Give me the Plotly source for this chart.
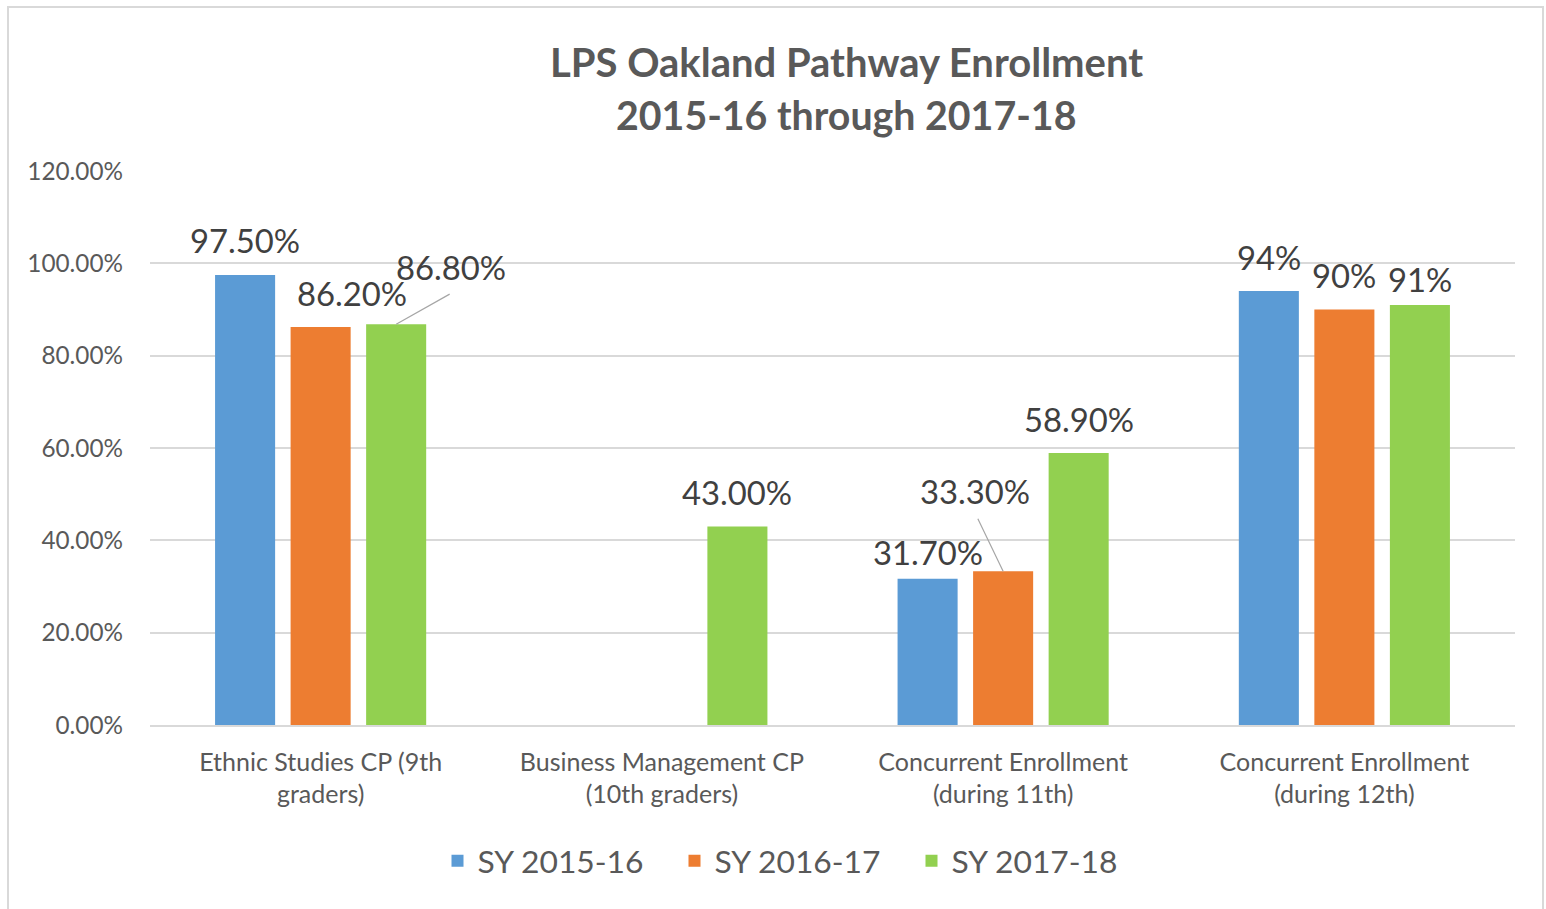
import plotly.graph_objects as go

# ---- data ----
CATEGORIES = [
    "Ethnic Studies CP (9th<br>graders)",
    "Business Management CP<br>(10th graders)",
    "Concurrent Enrollment<br>(during 11th)",
    "Concurrent Enrollment<br>(during 12th)",
]
SERIES_NAMES = ["SY 2015-16", "SY 2016-17", "SY 2017-18"]
SY_2015_16 = [97.5, None, 31.7, 94.0]
SY_2016_17 = [86.2, None, 33.3, 90.0]
SY_2017_18 = [86.8, 43.0, 58.9, 91.0]
LABELS_2015_16 = ["97.50%", None, "31.70%", "94%"]
LABELS_2016_17 = ["86.20%", None, "33.30%", "90%"]
LABELS_2017_18 = ["86.80%", "43.00%", "58.90%", "91%"]
Y_TICKS = [0, 20, 40, 60, 80, 100, 120]
Y_TICK_TEXT = ["0.00%", "20.00%", "40.00%", "60.00%", "80.00%", "100.00%", "120.00%"]

COLORS = ["#5B9BD5", "#ED7D31", "#92D050"]
FONT = "Lato, Open Sans, sans-serif"
GREY = "#595959"

# ---- geometry (pixels) ----
W, H = 1546, 909
L, R, T, B = 150, 31, 171, 184
PLOT_W = W - L - R
PLOT_H = H - T - B
SLOT = PLOT_W / len(CATEGORIES) * (1 - 0.336) / 3  # one bar slot in px

# label tweaks: (series, category) -> (dx, dy above bar top)
LABEL_NUDGE = {
    (1, 0): (31, 34),
    (2, 0): (55, 57),
    (0, 2): (0, 26),
    (1, 2): (-28, 80),
    (2, 3): (0, 25),
}
LEADERS = {
    (2, 0): (55, -31),
    (1, 2): (-26, -54),
}

fig = go.Figure()
all_vals = [SY_2015_16, SY_2016_17, SY_2017_18]
all_labels = [LABELS_2015_16, LABELS_2016_17, LABELS_2017_18]

for name, vals, color in zip(SERIES_NAMES, all_vals, COLORS):
    fig.add_trace(
        go.Bar(
            x=CATEGORIES,
            y=vals,
            name=name,
            marker=dict(color=color, line=dict(width=0)),
            hoverinfo="skip",
        )
    )

annotations = []
for si, (vals, labs) in enumerate(zip(all_vals, all_labels)):
    offset = (si - 1) * SLOT
    for ci, (v, lab) in enumerate(zip(vals, labs)):
        if v is None:
            continue
        dx, dy = LABEL_NUDGE.get((si, ci), (0, 34))
        annotations.append(
            dict(
                x=CATEGORIES[ci], y=v, xref="x", yref="y",
                text=lab, showarrow=False,
                xshift=offset + dx, yshift=dy,
                xanchor="center", yanchor="middle",
                font=dict(family=FONT, size=32.8, color="#404040"),
            )
        )
        if (si, ci) in LEADERS:
            ax, ay = LEADERS[(si, ci)]
            annotations.append(
                dict(
                    x=CATEGORIES[ci], y=v, xref="x", yref="y",
                    text="", showarrow=True, arrowhead=0,
                    arrowwidth=1.2, arrowcolor="#a6a6a6",
                    ax=ax, ay=ay, xshift=offset,
                )
            )

# title lines
for text, ypx, size in [("LPS Oakland Pathway Enrollment", 62, 40),
                        ("2015-16 through 2017-18", 114, 39.3)]:
    annotations.append(
        dict(
            x=(846 - L) / PLOT_W, y=(H - B - ypx) / PLOT_H,
            xref="paper", yref="paper", showarrow=False,
            text=f"<b>{text}</b>",
            xanchor="center", yanchor="middle",
            font=dict(family=FONT, size=size, color=GREY),
        )
    )

fig.update_layout(
    width=W,
    height=H,
    margin=dict(l=L, r=R, t=T, b=B, autoexpand=False),
    paper_bgcolor="white",
    plot_bgcolor="white",
    barmode="group",
    bargap=0.336,
    bargroupgap=0.205,
    showlegend=True,
    legend=dict(
        orientation="h",
        x=(793 - L) / PLOT_W,
        xanchor="center",
        y=(H - B - 861) / PLOT_H,
        yanchor="middle",
        entrywidth=192,
        font=dict(family=FONT, size=31.8, color=GREY),
        itemclick=False,
    ),
    annotations=annotations,
    shapes=[
        dict(
            type="rect", xref="paper", yref="paper",
            x0=(8 - L) / PLOT_W, x1=(1543 - L) / PLOT_W,
            y0=(H - B - 920) / PLOT_H, y1=(H - B - 7) / PLOT_H,
            line=dict(color="#d9d9d9", width=2),
            fillcolor="rgba(0,0,0,0)",
        )
    ],
)

fig.update_xaxes(
    showgrid=False,
    showline=True,
    linecolor="#d9d9d9",
    linewidth=1.5,
    ticks="",
    tickfont=dict(family=FONT, size=25, color=GREY),
    ticklabelstandoff=14,
)
fig.update_yaxes(
    range=[0, 120],
    tickvals=Y_TICKS,
    ticktext=Y_TICK_TEXT,
    showgrid=True,
    gridcolor="#d9d9d9",
    gridwidth=1.5,
    zeroline=False,
    showline=False,
    tickfont=dict(family=FONT, size=24.3, color=GREY),
    ticklabelstandoff=26,
)

fig.write_html(
    "out.html",
    config={"displayModeBar": False},
    post_script="document.body.style.margin='0';",
)
